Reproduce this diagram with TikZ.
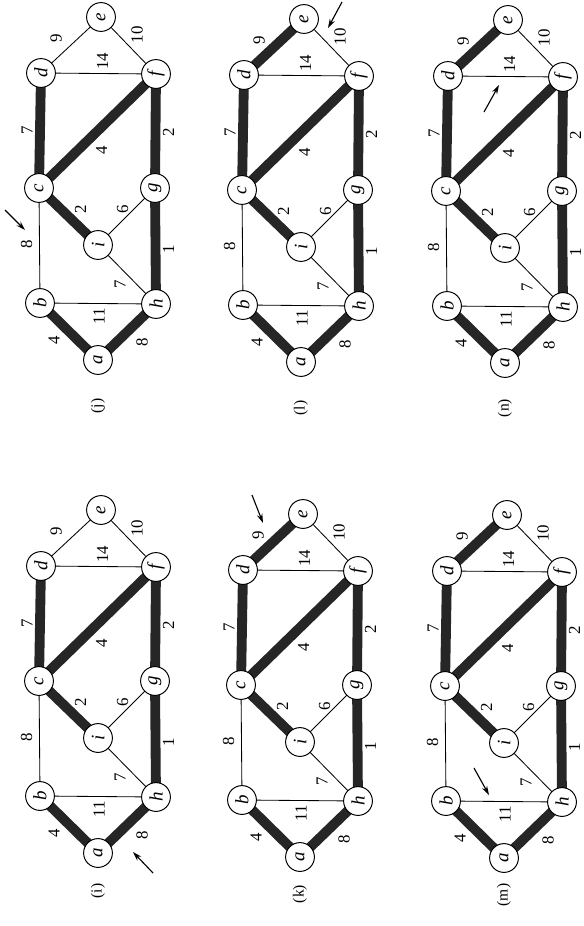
\documentclass[tikz,border=0pt]{standalone}
\usepackage{fontspec}
\setmainfont{Liberation Serif}
\usetikzlibrary{arrows.meta}
\pgfdeclarelayer{edges}
\pgfsetlayers{edges,main}

\begin{document}
\begin{tikzpicture}[
    x=0.025cm, y=-0.025cm,
    vert/.style={circle, draw, line width=0.7pt, fill=white, minimum size=0.72cm, inner sep=0pt, rotate=90, font=\fontsize{13.5}{14}\selectfont\itshape},
    wt/.style={inner sep=0pt, text=black, rotate=90, font=\fontsize{12}{13}\selectfont},
    tag/.style={inner sep=0pt, rotate=90, font=\fontsize{11}{12}\selectfont},
    graphedge/.style={line width=0.6pt},
    treeedge/.style={line width=7pt, black!85},
    arrow/.style={-{Stealth[length=6.5pt,width=4pt]}, line width=0.8pt}
]
  \useasboundingbox (0,0) rectangle (584,926);
  \clip (0,0) rectangle (584,926);

  % one panel per step: name / position of a / label offset / style of d--e
  \foreach \p/\px/\py/\ly/\de in {i/98/853/38/graphedge, j/98/360/46/graphedge, k/300/857/37/treeedge, l/301/362/46/treeedge, m/504/858/37/treeedge, n/505/363/45/treeedge} {
    \begin{scope}[shift={(\px,\py)}]
      % vertices
      \node[vert] (\p-a) at (0,0) {a};
      \node[vert] (\p-b) at (-58,-57) {b};
      \node[vert] (\p-h) at (58,-56) {h};
      \node[vert] (\p-i) at (0,-115) {i};
      \node[vert] (\p-c) at (-59,-172) {c};
      \node[vert] (\p-g) at (57,-172) {g};
      \node[vert] (\p-d) at (-57,-287) {d};
      \node[vert] (\p-f) at (58,-286) {f};
      \node[vert] (\p-e) at (3,-343) {e};
      \node[tag] (\p-tag) at (0,\ly) {(\p)};

      % edges, behind the vertices
      \begin{pgfonlayer}{edges}
        \draw[treeedge] (\p-a.center) -- node[midway, shift={(-15,8.5)}, wt] {4} (\p-b.center);
        \draw[treeedge] (\p-a.center) -- node[midway, shift={(15,10.5)}, wt] {8} (\p-h.center);
        \draw[graphedge] (\p-b.center) -- node[midway, shift={(1,13)}, wt] {11} (\p-h.center);
        \draw[graphedge] (\p-b.center) -- node[midway, shift={(-13,-1)}, wt] {8} (\p-c.center);
        \draw[graphedge] (\p-h.center) -- node[midway, shift={(-7,10)}, wt] {7} (\p-i.center);
        \draw[treeedge] (\p-c.center) -- node[midway, shift={(12,-7.5)}, wt] {2} (\p-i.center);
        \draw[graphedge] (\p-i.center) -- node[midway, shift={(-4,-7.5)}, wt] {6} (\p-g.center);
        \draw[treeedge] (\p-h.center) -- node[midway, shift={(13,3)}, wt] {1} (\p-g.center);
        \draw[treeedge] (\p-c.center) -- node[midway, shift={(4,19.5)}, wt] {4} (\p-f.center);
        \draw[treeedge] (\p-c.center) -- node[midway, shift={(-13,0)}, wt] {7} (\p-d.center);
        \draw[treeedge] (\p-g.center) -- node[midway, shift={(13,1.5)}, wt] {2} (\p-f.center);
        \draw[graphedge] (\p-d.center) -- node[midway, shift={(4,-12)}, wt] {14} (\p-f.center);
        \draw[\de] (\p-d.center) -- node[midway, shift={(-15,-6.5)}, wt] {9} (\p-e.center);
        \draw[graphedge] (\p-e.center) -- node[midway, shift={(8.5,-10.5)}, wt] {10} (\p-f.center);
      \end{pgfonlayer}
    \end{scope}
  }

  % arrows at the edge being examined
  \foreach \p/\tx/\ty/\hx/\hy in {i/55/20/35/-1, j/-93/-150/-73/-130, k/-48/-362/-37/-334, l/41/-360/27/-334, m/-30/-90/-15/-63, n/-21/-251/-6/-278} {
    \coordinate (\p-tail) at ([shift={(\tx,\ty)}]\p-a.center);
    \coordinate (\p-head) at ([shift={(\hx,\hy)}]\p-a.center);
    \draw[arrow] (\p-tail) -- (\p-head);
  }

\end{tikzpicture}
\end{document}
